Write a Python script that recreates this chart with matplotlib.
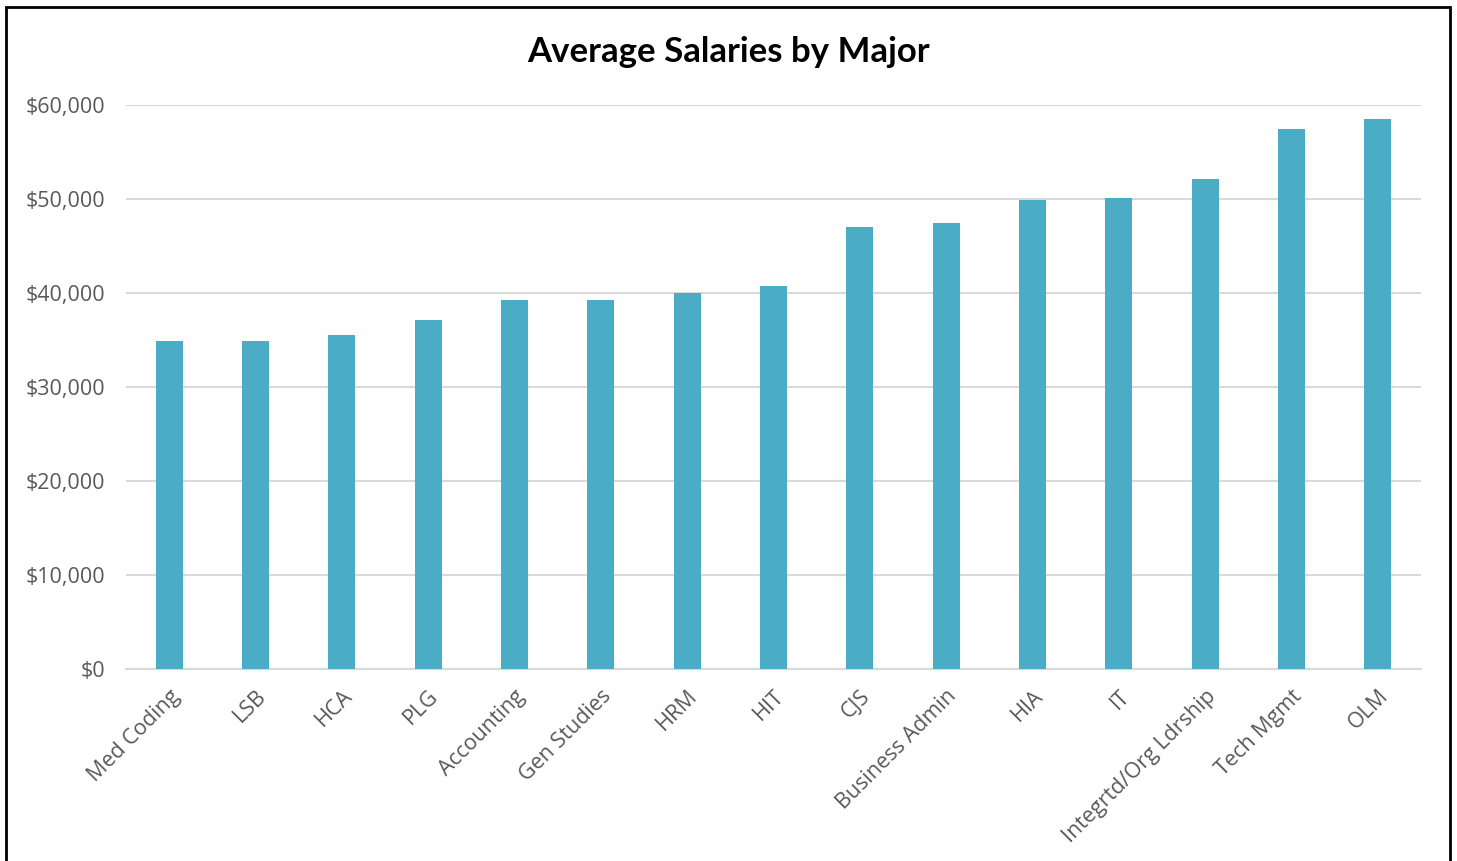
import matplotlib.pyplot as plt
from matplotlib.patches import Rectangle
from matplotlib.ticker import FuncFormatter

majors = ["Med Coding", "LSB", "HCA", "PLG", "Accounting", "Gen Studies", "HRM", "HIT",
          "CJS", "Business Admin", "HIA", "IT", "Integrtd/Org Ldrship", "Tech Mgmt", "OLM"]
salaries = [34900, 34900, 35500, 37100, 39250, 39250, 40000, 40750,
            47000, 47450, 49900, 50100, 52100, 57450, 58500]

W, H = 1457, 861
fig = plt.figure(figsize=(W / 100, H / 100), dpi=100)
ax = fig.add_axes([126 / W, 1 - 669 / H, (1421 - 126) / W, (669 - 105) / H])

x = range(len(majors))
ax.bar(x, salaries, width=0.31, color="#4BACC6", zorder=3)
ax.set_xlim(-0.5, len(majors) - 0.5)
ax.set_ylim(0, 60000)
ax.set_yticks(range(0, 60001, 10000))
ax.yaxis.set_major_formatter(FuncFormatter(lambda v, p: "${:,.0f}".format(v)))
ax.grid(axis="y", color="#D9D9D9", linewidth=1.5, zorder=0)
for s in ["top", "right", "left"]:
    ax.spines[s].set_visible(False)
ax.spines["bottom"].set_color("#D9D9D9")
ax.spines["bottom"].set_linewidth(1.5)
ax.tick_params(length=0, colors="#595959", labelsize=15.5)
ax.tick_params(axis="y", pad=15)
ax.set_xticks(list(x))
ax.set_xticklabels(majors, rotation=45, ha="right", rotation_mode="anchor", fontfamily="Open Sans")
for lab in ax.get_yticklabels():
    lab.set_fontfamily("Open Sans")
ax.tick_params(axis="x", pad=12)

fig.text(0.5, 1 - 52 / H, "Average Salaries by Major", ha="center", va="center",
         fontsize=25, fontweight="bold", fontfamily="Lato")

fig.patches.append(Rectangle((6 / W, -0.05), (1450 - 6) / W, 1.05 - 7 / H, transform=fig.transFigure,
                             fill=False, edgecolor="black", linewidth=2))

fig.savefig("out.png", dpi=100)
